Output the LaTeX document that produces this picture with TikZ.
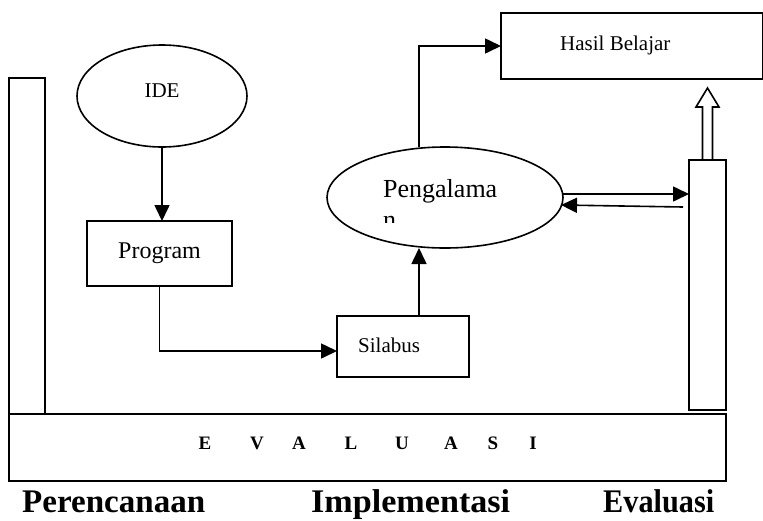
\documentclass[tikz,border=0pt]{standalone}
\usepackage{fontspec}
\setmainfont{Liberation Serif}
\usetikzlibrary{shapes.geometric,arrows.meta,calc}
\tikzset{
  ln/.style={line width=1.6pt},
  boxn/.style={draw,ln,rectangle,inner sep=0pt,outer sep=0pt},
  elln/.style={draw,ln,ellipse,inner sep=0pt,outer sep=0pt},
  arr/.style={ln,-{Triangle[length=16pt,width=15pt]}},
  txt/.style={inner sep=0pt,anchor=base west},
  big/.style={inner sep=0pt,anchor=base west,font=\bfseries\fontsize{33}{36}\selectfont},
  evl/.style={inner sep=0pt,anchor=base,font=\bfseries\fontsize{19}{22}\selectfont}
}
\begin{document}
\begin{tikzpicture}[x=1pt,y=-1pt]
\useasboundingbox (0,0) rectangle (763,520);
% boxes
\node[boxn,minimum width=36,minimum height=336] (lbar) at (27,246) {};
\node[boxn,minimum width=717,minimum height=67] (evalbox) at (367.5,447.5) {};
\node[boxn,minimum width=37,minimum height=250] (rbar) at (707.5,285) {};
\node[boxn,minimum width=262,minimum height=66] (hasil) at (632,46) {};
\node[boxn,minimum width=145,minimum height=65] (prog) at (159.5,253.5) {};
\node[boxn,minimum width=132,minimum height=61] (sil) at (403,346.5) {};
\node[elln,minimum width=170,minimum height=102] (ide) at (162,96) {};
\node[elln,minimum width=236,minimum height=101] (peng) at (445,197.5) {};
% texts
\node[txt,anchor=base,font=\fontsize{21}{24}\selectfont] (tide) at (162,97) {IDE};
\node[txt,font=\fontsize{24}{28}\selectfont] (tprog) at (118,258) {Program};
\node[txt,font=\fontsize{21}{24}\selectfont] (thasil) at (560,50) {Hasil Belajar};
\node[txt,font=\fontsize{21}{24}\selectfont] (tsil) at (358,352) {Silabus};
\node[txt,font=\fontsize{26}{30}\selectfont] (tpeng) at (383,197) {Pengalama};
\begin{scope}
\clip (370,205) rectangle (420,222);
\node[txt,font=\fontsize{26}{30}\selectfont] (tpengn) at (383,228) {n};
\end{scope}
% EVALUASI
\node[evl] (e1) at (205,449) {E};
\node[evl] (e2) at (257,449) {V};
\node[evl] (e3) at (299,449) {A};
\node[evl] (e4) at (351,449) {L};
\node[evl] (e5) at (402,449) {U};
\node[evl] (e6) at (451,449) {A};
\node[evl] (e7) at (493,449) {S};
\node[evl] (e8) at (533,449) {I};
% bottom labels
\node[big] (lp) at (22,512) {\resizebox{183pt}{\height}{Perencanaan}};
\node[big] (li) at (311,512) {\resizebox{199pt}{\height}{Implementasi}};
\node[big] (le) at (603,512) {\resizebox{111pt}{\height}{Evaluasi}};
% connectors
\draw[arr] (ide.south) -- (ide.south |- prog.north);
\draw[arr] (prog.south) |- ([yshift=-4.5pt]sil.west);
\draw[arr] ([xshift=16pt]sil.north) -- ([xshift=16pt]sil.north |- peng.south);
\draw[arr] ([xshift=-26pt]peng.north) |- (hasil.west);
\draw[arr] ([yshift=3.5pt]peng.east) -- ([yshift=3.5pt]rbar.west |- peng.east);
\coordinate (bk) at (683,207);
\draw[arr] (bk) -- (561,205);
% hollow block arrow
\draw[ln,line join=miter] ($(rbar.north)+(-5,0)$) -- ++(0,-53) -- ++(-6.5,0)
  -- ($(rbar.north)+(0,-72)$) -- ($(rbar.north)+(11.5,-53)$) -- ++(-6.5,0) -- ($(rbar.north)+(5,0)$);
\end{tikzpicture}
\end{document}
